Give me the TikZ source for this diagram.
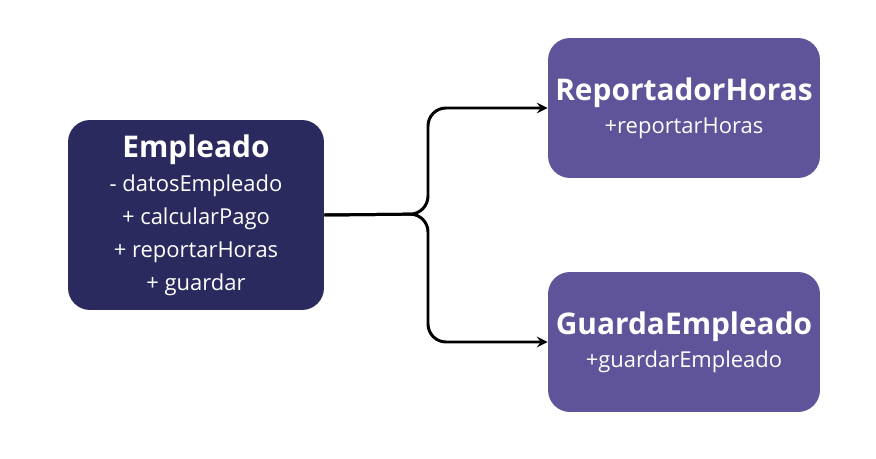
\documentclass[tikz,border=0pt]{standalone}
\usepackage{fontspec}
\setmainfont{Open Sans}
\usetikzlibrary{positioning}
\definecolor{navy}{HTML}{2B2A5E}
\definecolor{lila}{HTML}{5F5499}
\tikzset{
  clase/.style={rounded corners=0.44cm, text=white, align=center, inner sep=0pt},
  flecha/.style={line width=1.7pt, rounded corners=0.36cm, -stealth}
}
\begin{document}
\begin{tikzpicture}[x=0.02cm, y=-0.02cm]
        \useasboundingbox (0,0) rectangle (876,459);
        \node[clase, fill=navy, minimum width=5.12cm, minimum height=3.8cm,
            font=\fontsize{12.5}{18.7}\selectfont] (emp) at (196,215)
            {{\fontsize{17}{22}\selectfont\bfseries Empleado}\\[1pt]
             - datosEmpleado\\ + calcularPago\\ + reportarHoras\\ + guardar};
        \node[clase, fill=lila, minimum width=5.44cm, minimum height=2.8cm,
            font=\fontsize{12.5}{18.7}\selectfont] (rep) at (684,108)
            {{\fontsize{17}{22}\selectfont\bfseries ReportadorHoras}\\+reportarHoras};
        \node[clase, fill=lila, minimum width=5.44cm, minimum height=2.8cm,
            font=\fontsize{12.5}{18.7}\selectfont] (gua) at (684,342)
            {{\fontsize{17}{22}\selectfont\bfseries GuardaEmpleado}\\+guardarEmpleado};

        \coordinate (split) at (428,214);
        \draw[flecha] (emp.east) -- (split) |- (rep.west);
        \draw[flecha] (emp.east) -- (split) |- (gua.west);
\end{tikzpicture}
\end{document}
